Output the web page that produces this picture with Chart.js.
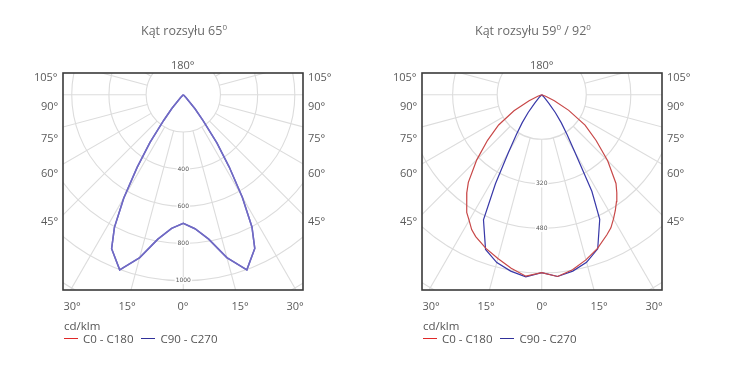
<!DOCTYPE html>
<html>
<head>
<meta charset="utf-8">
<script src="https://cdn.jsdelivr.net/npm/chart.js@4/dist/chart.umd.min.js"></script>
<style>
  html,body{margin:0;padding:0;background:#fff;}
  body{width:746px;height:378px;position:relative;overflow:hidden;font-family:"Open Sans",sans-serif;color:#5a5a5a;}
  canvas{position:absolute;top:0;}
  .t{position:absolute;white-space:nowrap;font-size:11px;line-height:13px;}
  .title{font-size:12.5px;color:#6a6a6a;}
  .title sup{font-size:8px;vertical-align:5px;line-height:0;}
  .lg{position:absolute;font-size:11.5px;line-height:13px;white-space:nowrap;color:#555;}
  .sw{display:inline-block;width:14px;height:0;border-top:1px solid;vertical-align:middle;margin-right:5px;position:relative;top:-1px;}
</style>
</head>
<body>
<canvas id="c1" width="373" height="378" style="left:0"></canvas>
<canvas id="c2" width="373" height="378" style="left:373px"></canvas>
<script>
// ---------- DATA ----------
// Panel 1: Kąt rozsyłu 65°  (gamma angles in degrees, intensity in cd/klm)
const gamma65 = [0,5,10,15,20,25,27.5,30,32.5,35,37.5,40,45,50,60,90,120,150,180];
const c0_65   = [690,722,787,905,1000,910,800,635,460,315,175,98,20,0,0,0,0,0,0];
const c180_65 = [690,720,787,905,1000,912,802,640,462,312,172,96,20,0,0,0,0,0,0];
const c90_65  = [690,722,787,905,1000,910,800,635,460,315,175,98,20,0,0,0,0,0,0];
const c270_65 = [690,720,787,905,1000,912,802,640,462,312,172,96,20,0,0,0,0,0,0];

// Panel 2: Kąt rozsyłu 59° / 92°
const gamma59 = [0,5,10,15,20,25,27.5,30,32.5,35,37.5,40,45,50,55,60,65,70,75,90,180];
const c0_59   = [638,654,637,613,586,554,538,515,492,468,443,415,335,255,190,112,50,15,0,0,0];
const c180_59 = [638,653,632,608,586,561,545,521,500,471,442,410,330,254,189,115,50,15,0,0,0];
const c90_59  = [638,654,642,622,588,493,390,240,170,122,80,40,10,0,0,0,0,0,0,0,0];
const c270_59 = [638,655,642,623,590,495,360,240,170,122,80,40,10,0,0,0,0,0,0,0,0];

// Grid rings and labels
const rings65 = [200,400,600,800,1000,1200,1400];
const ringLabels65 = [400,600,800,1000];
const rings59 = [160,320,480,640,800,960];
const ringLabels59 = [320,480];
const spokes = [0,15,30,45,60,75,90,105,120,135,150,165,180,195,210,225,240,255,270,285,300,315,330,345];

// Tick labels
const sideTicks = ['105°','90°','75°','60°','45°'];
const bottomTicks = ['30°','15°','0°','15°','30°'];
const topTick = '180°';
const unitLabel = 'cd/klm';
const seriesNames = ['C0 - C180','C90 - C270'];

// ---------- helpers ----------
function polarPoints(gamma, leftVals, rightVals){
  const pts = [];
  for(let i=gamma.length-1;i>=0;i--){
    const a = gamma[i]*Math.PI/180;
    pts.push({x:-leftVals[i]*Math.sin(a), y:-leftVals[i]*Math.cos(a)});
  }
  for(let i=1;i<gamma.length;i++){
    const a = gamma[i]*Math.PI/180;
    pts.push({x:rightVals[i]*Math.sin(a), y:-rightVals[i]*Math.cos(a)});
  }
  return pts;
}

const polarGrid = {
  id:'polarGrid',
  beforeDatasetsDraw(chart, args, o){
    const {ctx, chartArea:a, scales:{x,y}} = chart;
    const cx = x.getPixelForValue(0), cy = y.getPixelForValue(0);
    const ppu = x.getPixelForValue(1) - cx;
    ctx.save();
    ctx.beginPath(); ctx.rect(a.left,a.top,a.width,a.height); ctx.clip();
    ctx.strokeStyle = '#dcdcdc'; ctx.lineWidth = 1.1;
    o.rings.forEach(r=>{ctx.beginPath();ctx.arc(cx,cy,r*ppu,0,Math.PI*2);ctx.stroke();});
    const r0 = o.rings[0]*ppu;
    o.spokes.forEach(d=>{
      const t = d*Math.PI/180, s=Math.sin(t), c=Math.cos(t);
      ctx.beginPath(); ctx.moveTo(cx+s*r0, cy+c*r0); ctx.lineTo(cx+s*600, cy+c*600); ctx.stroke();
    });
    ctx.font = '6px "DejaVu Sans", sans-serif';
    ctx.textAlign='center'; ctx.textBaseline='middle';
    o.labels.forEach(v=>{
      const py = cy + v*ppu;
      const w = ctx.measureText(String(v)).width;
      ctx.fillStyle='#fff'; ctx.fillRect(cx-w/2-1, py-3.5, w+2, 7);
      ctx.fillStyle='#555'; ctx.fillText(String(v), cx, py);
    });
    ctx.restore();
  },
  afterDraw(chart){
    const {ctx, chartArea:a} = chart;
    ctx.save(); ctx.strokeStyle='#3a3a3a'; ctx.lineWidth=1.6;
    ctx.strokeRect(a.left,a.top,a.width,a.height); ctx.restore();
  }
};

function makeChart(id, datasets, xr, yr, pad, rings, labels){
  return new Chart(document.getElementById(id), {
    type:'scatter',
    data:{datasets},
    options:{
      responsive:false, animation:false,
      layout:{padding:pad},
      plugins:{legend:{display:false}, tooltip:{enabled:false}, polarGrid:{rings, spokes, labels}},
      scales:{
        x:{type:'linear', display:false, min:xr[0], max:xr[1]},
        y:{type:'linear', display:false, min:yr[0], max:yr[1]}
      },
      elements:{point:{radius:0}, line:{tension:0}}
    },
    plugins:[polarGrid]
  });
}

const purple = 'rgb(112,106,196)';
makeChart('c1', [
  {data:polarPoints(gamma65, c180_65, c0_65), showLine:true, borderColor:purple, borderWidth:1.5},
  {data:polarPoints(gamma65, c270_65, c90_65), showLine:true, borderColor:purple, borderWidth:1.5}
], [-647,644], [-1048,117], {left:63,right:70,top:73,bottom:88}, rings65, ringLabels65);

makeChart('c2', [
  {data:polarPoints(gamma59, c180_59, c0_59), showLine:true, borderColor:'rgb(200,72,72)', borderWidth:1.2},
  {data:polarPoints(gamma59, c270_59, c90_59), showLine:true, borderColor:'rgb(56,56,168)', borderWidth:1.2}
], [-430,432], [-700,78], {left:49,right:84,top:73,bottom:88}, rings59, ringLabels59);

// ---------- text ----------
function put(html, x, y, align, cls){
  const d = document.createElement('div');
  d.className = cls || 't';
  d.innerHTML = html;
  document.body.appendChild(d);
  const w = d.offsetWidth, h = d.offsetHeight;
  let left = x;
  if(align==='c') left = x - w/2; else if(align==='r') left = x - w;
  d.style.left = left+'px'; d.style.top = (y - h/2)+'px';
}
const sideY = [76,105,137,172,220];
const bottomDx = [-111,-56,0,57,112];
const panels = [
  {cx:183, titleX:184, title:'Kąt rozsyłu 65<sup>0</sup>', lx:58, rx:308, legX:64},
  {cx:542, titleX:533, title:'Kąt rozsyłu 59<sup>0</sup> / 92<sup>0</sup>', lx:417, rx:667, legX:423}
];
panels.forEach(p=>{
  put(p.title, p.titleX, 30, 'c', 't title');
  put(topTick, p.cx, 64, 'c');
  sideTicks.forEach((s,i)=>{ put(s, p.lx, sideY[i], 'r'); put(s, p.rx, sideY[i], 'l'); });
  bottomTicks.forEach((s,i)=>{ put(s, p.cx+bottomDx[i], 305, 'c'); });
  put(unitLabel, p.legX, 325, 'l', 'lg');
  put('<span class="sw" style="border-color:#e02828"></span>'+seriesNames[0]+
      '<span class="sw" style="border-color:#30309a;margin-left:8px"></span>'+seriesNames[1], p.legX, 338, 'l', 'lg');
});
</script>
</body>
</html>
